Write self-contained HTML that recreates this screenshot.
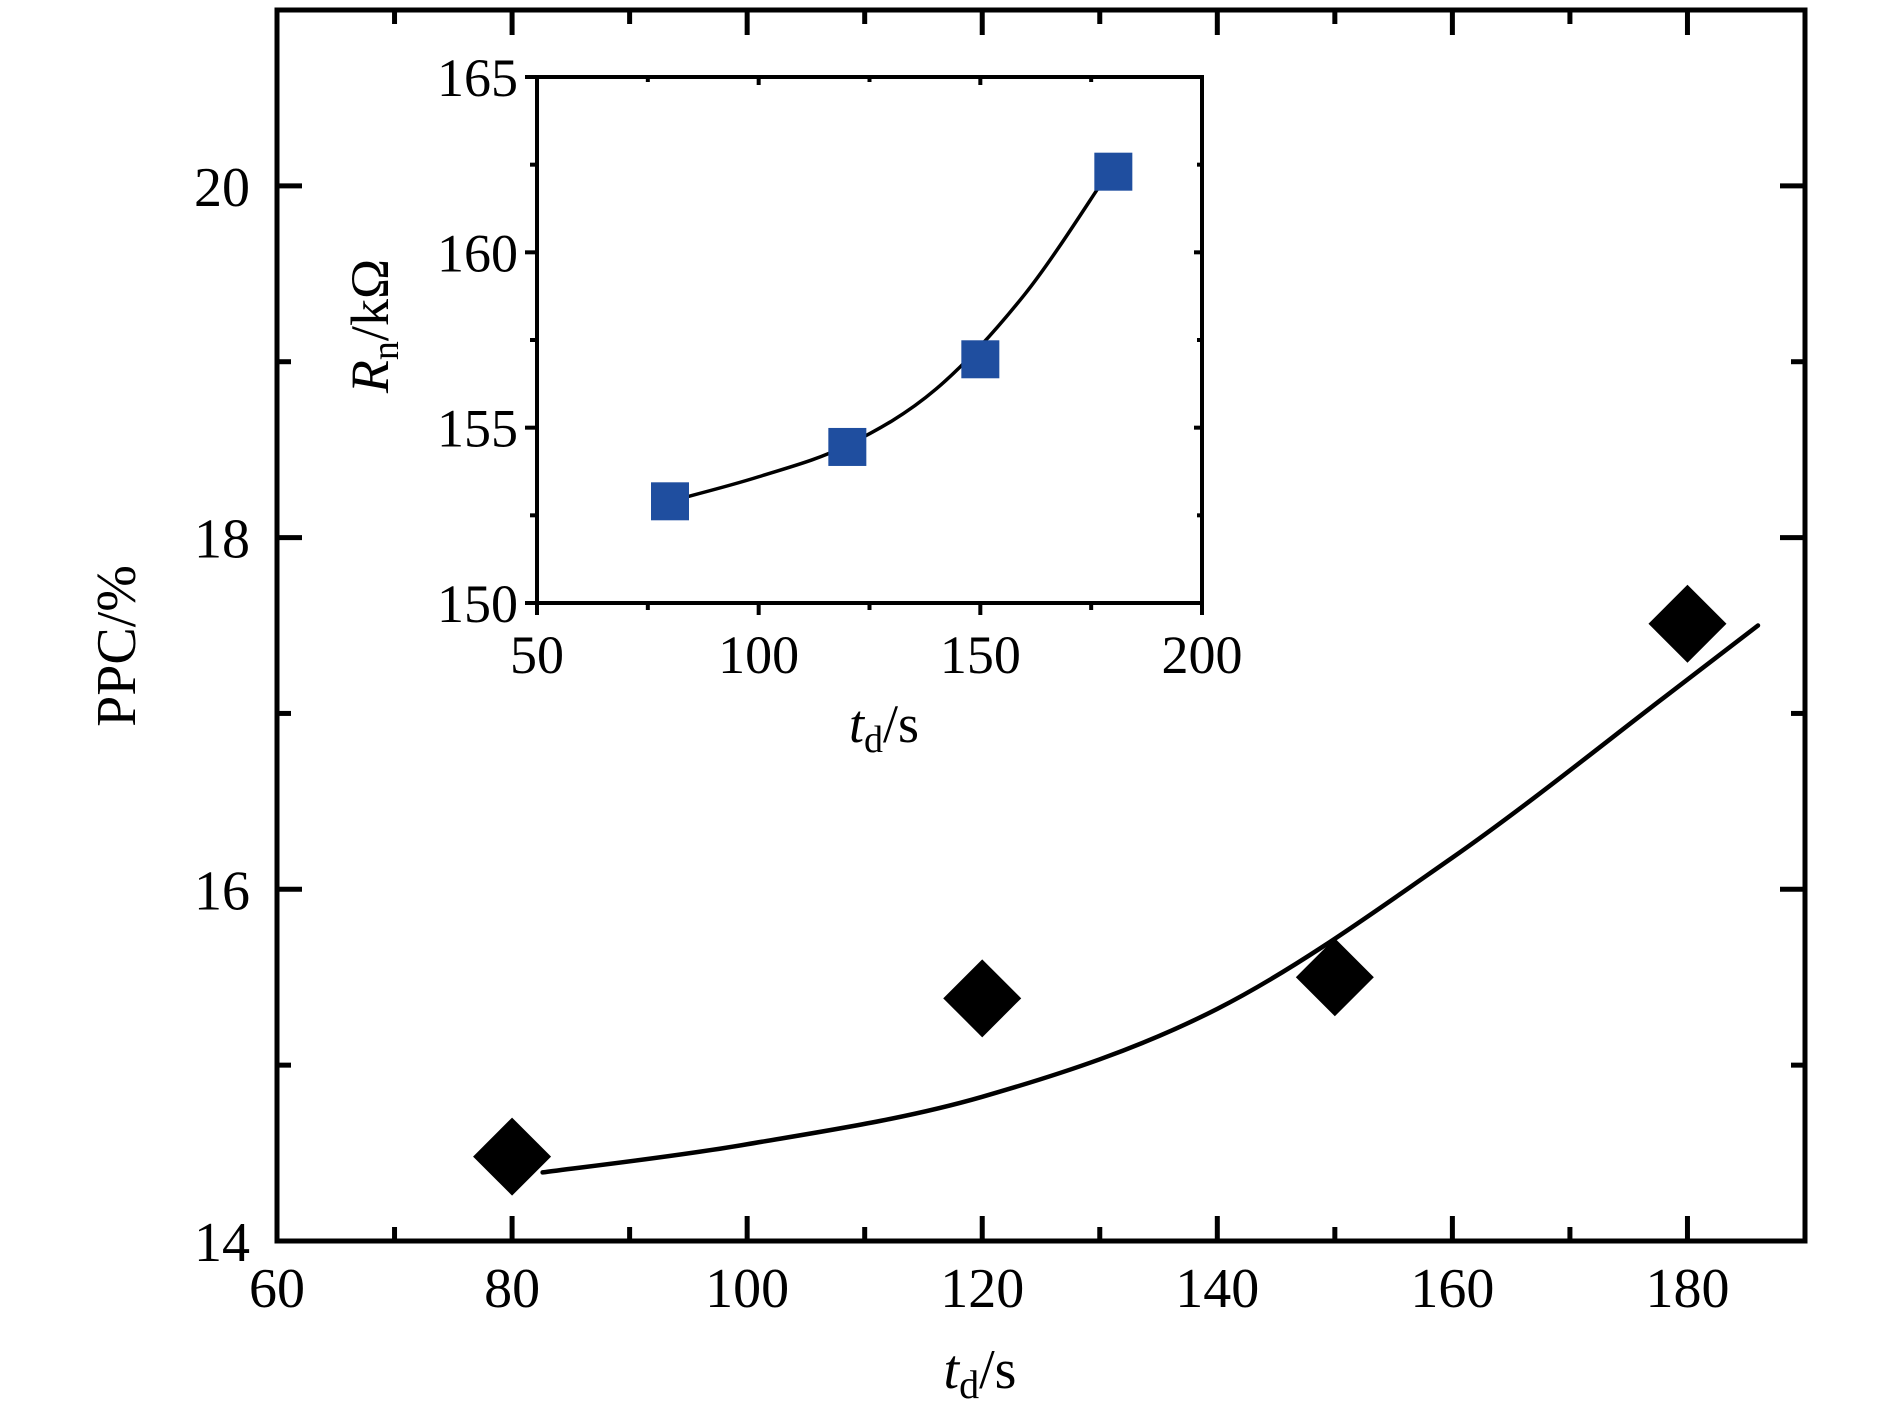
<!DOCTYPE html>
<html><head><meta charset="utf-8"><style>
html,body{margin:0;padding:0;background:#fff;}
svg{display:block;font-family:"Liberation Serif","DejaVu Serif",serif;}
</style></head><body>
<svg id="chart" width="1890" height="1418" viewBox="0 0 1890 1418" xmlns="http://www.w3.org/2000/svg">
<g id="main"></g>
<g id="inset"></g>
</svg>
<script>
// Main chart data
const mainX = [80, 120, 150, 180];
const mainY = [14.48, 15.38, 15.5, 17.51];
const mainFitX = [82.6, 100, 120, 140, 160, 178, 186];
const mainFitY = [14.39, 14.55, 14.82, 15.32, 16.18, 17.09, 17.5];
const mainXTicks = [60, 80, 100, 120, 140, 160, 180];
const mainYTicks = [14, 16, 18, 20];
// Inset data
const insetX = [80, 120, 150, 180];
const insetY = [152.9, 154.45, 156.95, 162.3];
const insetFitX = [80, 100, 120, 140, 160, 178];
const insetFitY = [152.9, 153.6, 154.5, 156.1, 158.8, 162.1];
const insetXTicks = [50, 100, 150, 200];
const insetYTicks = [150, 155, 160, 165];

const NS = "http://www.w3.org/2000/svg";
function mk(parent, tag, attrs, text) {
  const e = document.createElementNS(NS, tag);
  for (const k in attrs) e.setAttribute(k, attrs[k]);
  if (text !== undefined) e.textContent = text;
  parent.appendChild(e);
  return e;
}
function smoothPath(pts) {
  let d = "M" + pts[0][0] + "," + pts[0][1];
  for (let i = 0; i < pts.length - 1; i++) {
    const p0 = pts[Math.max(i - 1, 0)], p1 = pts[i], p2 = pts[i + 1], p3 = pts[Math.min(i + 2, pts.length - 1)];
    const c1 = [p1[0] + (p2[0] - p0[0]) / 6, p1[1] + (p2[1] - p0[1]) / 6];
    const c2 = [p2[0] - (p3[0] - p1[0]) / 6, p2[1] - (p3[1] - p1[1]) / 6];
    d += " C" + c1.join(",") + " " + c2.join(",") + " " + p2.join(",");
  }
  return d;
}

// ---------- main ----------
const M = { l: 277, r: 1805, t: 10, b: 1241, x0: 60, x1: 190, y0: 14, y1: 21 };
const mx = v => M.l + (v - M.x0) / (M.x1 - M.x0) * (M.r - M.l);
const my = v => M.b - (v - M.y0) / (M.y1 - M.y0) * (M.b - M.t);
const g = document.getElementById("main");

const frame = mk(g, "rect", { x: M.l, y: M.t, width: M.r - M.l, height: M.b - M.t, fill: "none", stroke: "#000", "stroke-width": 5 });



for (let v = 70; v < 190; v += 10) {
  const major = mainXTicks.includes(v);
  const len = major ? 25 : 14;
  const t1 = mk(g, "line", { x1: mx(v), x2: mx(v), y1: M.b, y2: M.b - len, stroke: "#000", "stroke-width": 5 });
  
  
  const t2 = mk(g, "line", { x1: mx(v), x2: mx(v), y1: M.t, y2: M.t + len, stroke: "#000", "stroke-width": 5 });
  
  
}
mainXTicks.forEach(v => {
  const t = mk(g, "text", { x: mx(v), y: 1307, "font-size": 56, "text-anchor": "middle" }, String(v));
  
  
});
for (let v = 15; v <= 20; v += 1) {
  const major = mainYTicks.includes(v);
  const len = major ? 25 : 14;
  const t1 = mk(g, "line", { x1: M.l, x2: M.l + len, y1: my(v), y2: my(v), stroke: "#000", "stroke-width": 5 });
  
  
  const t2 = mk(g, "line", { x1: M.r, x2: M.r - len, y1: my(v), y2: my(v), stroke: "#000", "stroke-width": 5 });
  
  
}
mainYTicks.forEach(v => {
  const t = mk(g, "text", { x: 250, y: my(v) + 20, "font-size": 56, "text-anchor": "end" }, String(v));
  
  
});

const xt = mk(g, "text", { x: 980, y: 1388, "font-size": 56, "text-anchor": "middle" });


mk(xt, "tspan", { "font-style": "italic" }, "t");
mk(xt, "tspan", { "font-size": 40, dy: 10 }, "d");
mk(xt, "tspan", { dy: -10 }, "/s");

const yt = mk(g, "text", { x: 0, y: 0, "font-size": 56, "text-anchor": "middle", transform: "translate(135,646) rotate(-90)" }, "PPC/%");



const fit = mk(g, "path", { d: smoothPath(mainFitX.map((x, i) => [mx(x), my(mainFitY[i])])), fill: "none", stroke: "#000", "stroke-width": 4.5, "stroke-linecap": "round" });



mainX.forEach((x, i) => {
  const cx = mx(x), cy = my(mainY[i]), h = 39;
  const p = mk(g, "polygon", { points: `${cx},${cy - h} ${cx + h},${cy} ${cx},${cy + h} ${cx - h},${cy}`, fill: "#000" });
  
  
});

// ---------- inset ----------
const I = { l: 537, r: 1202, t: 77, b: 603, x0: 50, x1: 200, y0: 150, y1: 165 };
const ix = v => I.l + (v - I.x0) / (I.x1 - I.x0) * (I.r - I.l);
const iy = v => I.b - (v - I.y0) / (I.y1 - I.y0) * (I.b - I.t);
const h2 = document.getElementById("inset");

const bg = mk(h2, "rect", { x: I.l, y: I.t, width: I.r - I.l, height: I.b - I.t, fill: "#fff", stroke: "#000", "stroke-width": 4 });



for (let v = 50; v <= 200; v += 25) {
  const major = insetXTicks.includes(v);
  const t = mk(h2, "line", { x1: ix(v), x2: ix(v), y1: I.b, y2: I.b + (major ? 12 : 7), stroke: "#000", "stroke-width": 4 });
  
  
  const tt = mk(h2, "line", { x1: ix(v), x2: ix(v), y1: I.t, y2: I.t + (major ? 8 : 5), stroke: "#000", "stroke-width": 4 });
  
  
}
insetXTicks.forEach(v => {
  const t = mk(h2, "text", { x: ix(v), y: 673, "font-size": 54, "text-anchor": "middle" }, String(v));
  
  
});
for (let v = 150; v <= 165; v += 2.5) {
  const major = insetYTicks.includes(v);
  const t = mk(h2, "line", { x1: I.l, x2: I.l - (major ? 12 : 7), y1: iy(v), y2: iy(v), stroke: "#000", "stroke-width": 4 });
  
  
  const tr = mk(h2, "line", { x1: I.r, x2: I.r - (major ? 8 : 5), y1: iy(v), y2: iy(v), stroke: "#000", "stroke-width": 4 });
  
  
}
insetYTicks.forEach(v => {
  const t = mk(h2, "text", { x: 518, y: iy(v) + 19, "font-size": 54, "text-anchor": "end" }, String(v));
  
  
});

const ixt = mk(h2, "text", { x: 884, y: 742, "font-size": 54, "text-anchor": "middle" });


mk(ixt, "tspan", { "font-style": "italic" }, "t");
mk(ixt, "tspan", { "font-size": 38, dy: 10 }, "d");
mk(ixt, "tspan", { dy: -10 }, "/s");

const iyt = mk(h2, "text", { x: 0, y: 0, "font-size": 54, "text-anchor": "middle", transform: "translate(388,326) rotate(-90)" });


mk(iyt, "tspan", { "font-style": "italic" }, "R");
mk(iyt, "tspan", { "font-size": 38, dy: 10 }, "n");
mk(iyt, "tspan", { dy: -10 }, "/kΩ");

const ifit = mk(h2, "path", { d: smoothPath(insetFitX.map((x, i) => [ix(x), iy(insetFitY[i])])), fill: "none", stroke: "#000", "stroke-width": 3.5 });



insetX.forEach((x, i) => {
  const s = 38;
  const r = mk(h2, "rect", { x: ix(x) - s / 2, y: iy(insetY[i]) - s / 2, width: s, height: s, fill: "#1f4e9f" });
  
  
});
</script>
</body></html>
